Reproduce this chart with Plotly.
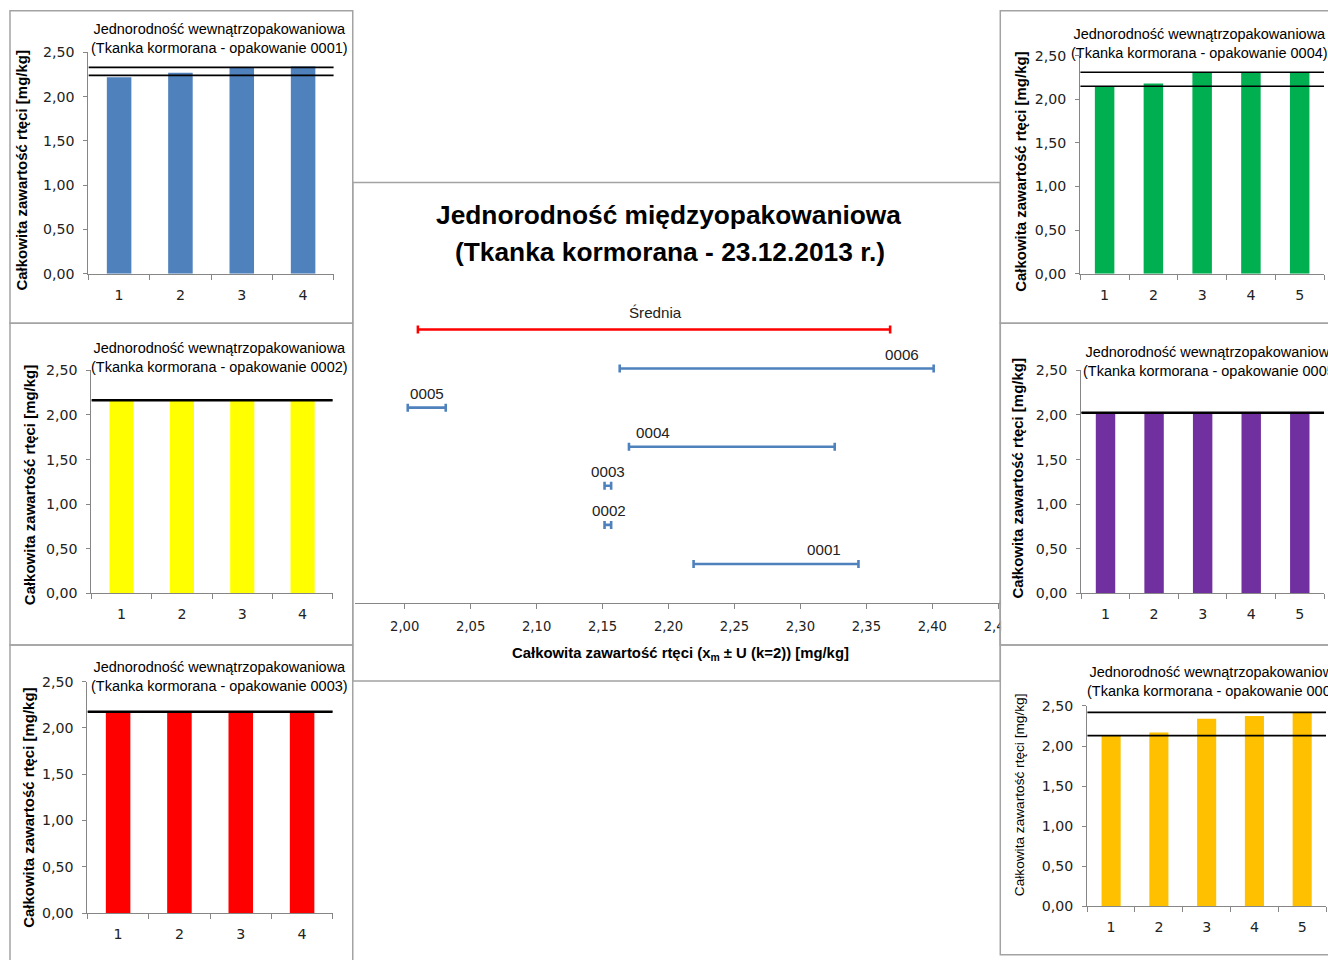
import plotly.graph_objects as go

# ---------------- data ----------------
# between-package homogeneity (centre chart)
mean_label = "Średnia"
mean_value = 2.189
mean_U = 0.179

pkg_names = ["0006", "0005", "0004", "0003", "0002", "0001"]
pkg_rows = [6, 5, 4, 3, 2, 1]
pkg_means = [2.282, 2.0167, 2.248, 2.154, 2.154, 2.2815]
pkg_U = [0.119, 0.0144, 0.078, 0.0025, 0.0025, 0.0625]
mean_row = 7

# label anchor x-values (data units) as placed in the original
label_x_mean = 2.190
label_x_pkg = [2.377, 2.0167, 2.188, 2.154, 2.155, 2.318]

center_ticks = [2.00, 2.05, 2.10, 2.15, 2.20, 2.25, 2.30, 2.35, 2.40, 2.45]

# within-package homogeneity (small panels)
pkg1_vals = [2.22, 2.27, 2.33, 2.34]
pkg1_lines = [2.24, 2.33]
pkg2_vals = [2.16, 2.16, 2.16, 2.16]
pkg2_lines = [2.16, 2.17]
pkg3_vals = [2.17, 2.17, 2.17, 2.17]
pkg3_lines = [2.17, 2.18]
pkg4_vals = [2.15, 2.18, 2.31, 2.31, 2.31]
pkg4_lines = [2.15, 2.31]
pkg5_vals = [2.02, 2.02, 2.02, 2.02, 2.02]
pkg5_lines = [2.02, 2.03]
pkg6_vals = [2.13, 2.17, 2.34, 2.375, 2.42]
pkg6_lines = [2.13, 2.42]

y_ticks_small = [0, 0.5, 1.0, 1.5, 2.0, 2.5]

# ---------------- page geometry ----------------
# the page is photographed slightly scaled; lay out in target pixels and
# convert to page pixels
SX, SY, OY = 0.991, 0.9845, 7.3
FW, FH = 1340, 968

def fx(p):
    return (p / SX) / FW

def fy(p):
    return 1 - ((p - OY) / SY) / FH

def fs(s):
    return round(s / 0.988, 2)

AX = "#868686"
BORDER = "#A3A3A3"
TICKFONT = dict(family="DejaVu Sans", size=fs(14), color="#222222")
CTICKFONT = dict(family="DejaVu Sans", size=fs(13), color="#222222")
LBLFONT = dict(family="Liberation Sans", size=fs(15), color="#222222")

fig = go.Figure()

# ---------------- centre chart ----------------
fig.add_trace(go.Scatter(
    x=[mean_value], y=[mean_row], mode="markers",
    marker=dict(size=2, opacity=0),
    error_x=dict(type="data", array=[mean_U], symmetric=True,
                 color="#FF0000", thickness=2.6, width=4),
    xaxis="x", yaxis="y", showlegend=False, hoverinfo="skip"))
fig.add_trace(go.Scatter(
    x=pkg_means, y=pkg_rows, mode="markers",
    marker=dict(size=2, opacity=0),
    error_x=dict(type="data", array=pkg_U, symmetric=True,
                 color="#4F81BD", thickness=2.6, width=4),
    xaxis="x", yaxis="y", showlegend=False, hoverinfo="skip"))

# centre axis: 2.00 at px 405, 1320 px per unit (target pixels)
c_left, c_right = 355, 1001
x0 = 2.0 - (405 - c_left) / 1320
x1 = x0 + (c_right - c_left) / 1320

layout_axes = {}
layout_axes["xaxis"] = dict(
    domain=[fx(c_left), fx(c_right)], range=[x0, x1],
    tickmode="array", tickvals=center_ticks, tickformat=".2f",
    ticks="outside", ticklen=5, tickcolor=AX, showline=True, linecolor=AX,
    linewidth=1, showgrid=False, zeroline=False, tickfont=CTICKFONT,
    ticklabelstandoff=6, anchor="y", fixedrange=True)
layout_axes["yaxis"] = dict(
    domain=[fy(603), fy(290)], range=[0, 8], visible=False,
    anchor="x", fixedrange=True)

annotations = []
annotations.append(dict(
    xref="x", yref="y", x=label_x_mean, y=mean_row, yshift=17,
    text=mean_label, showarrow=False, font=LBLFONT))
for nm, lx, r in zip(pkg_names, label_x_pkg, pkg_rows):
    annotations.append(dict(
        xref="x", yref="y", x=lx, y=r, yshift=14,
        text=nm, showarrow=False, font=LBLFONT))

TITLEFONT = dict(family="Liberation Sans", size=fs(26), color="#000000")
annotations.append(dict(
    xref="paper", yref="paper", x=fx(669), y=fy(215),
    text="<b>Jednorodność międzyopakowaniowa</b>",
    showarrow=False, font=TITLEFONT, xanchor="center", yanchor="middle"))
annotations.append(dict(
    xref="paper", yref="paper", x=fx(670), y=fy(252),
    text="<b>(Tkanka kormorana - 23.12.2013 r.)</b>",
    showarrow=False, font=TITLEFONT, xanchor="center", yanchor="middle"))
annotations.append(dict(
    xref="paper", yref="paper", x=fx(681), y=fy(654),
    text="<b>Całkowita zawartość rtęci (x<sub>m</sub> ± U (k=2)) [mg/kg]</b>",
    showarrow=False, font=dict(family="Liberation Sans", size=fs(14.7), color="#000000"),
    xanchor="center", yanchor="middle"))

# ---------------- small panels ----------------
panels = [
    # vals, lines, color, name, xl, xr, y_top, y_bot, title_cx, title_y1, ytitle_x, ytitle_y, bold
    (pkg1_vals, pkg1_lines, "#4F81BD", "0001", 88.5, 334, 51.7, 273.3, 220, 28, 22, 170, True),
    (pkg2_vals, pkg2_lines, "#FFFF00", "0002", 91.5, 333, 370, 593.3, 220, 348, 29, 485, True),
    (pkg3_vals, pkg3_lines, "#FF0000", "0003", 87.5, 333, 681.7, 913.3, 220, 667, 29, 808, True),
    (pkg4_vals, pkg4_lines, "#00B050", "0004", 1081, 1325, 55, 273.3, 1200, 33, 1021, 171, True),
    (pkg5_vals, pkg5_lines, "#7030A0", "0005", 1082, 1325, 370, 593.3, 1212, 352, 1018, 478, True),
    (pkg6_vals, pkg6_lines, "#FFC000", "0006", 1088, 1327, 706, 906.7, 1216, 672, 1021, 795, False),
]

for i, (vals, lines, col, nm, xl, xr, yt, yb, tcx, ty1, ytx, yty, bold) in enumerate(panels):
    k = i + 2
    xa, ya = f"x{k}", f"y{k}"
    n = len(vals)
    cats = list(range(1, n + 1))
    fig.add_trace(go.Bar(
        x=cats, y=vals, marker=dict(color=col, line=dict(width=0)), width=0.4,
        xaxis=xa, yaxis=ya, showlegend=False, hoverinfo="skip"))
    for v in lines:
        fig.add_trace(go.Scatter(
            x=[0.5, n + 0.5], y=[v, v], mode="lines",
            line=dict(color="#000000", width=1.6),
            xaxis=xa, yaxis=ya, showlegend=False, hoverinfo="skip", cliponaxis=True))
    layout_axes[f"xaxis{k}"] = dict(
        domain=[fx(xl), fx(xr)], range=[0.5, n + 0.5], anchor=ya,
        tickmode="array", tickvals=cats, ticks="", showgrid=False, zeroline=False,
        showline=True, linecolor=AX, linewidth=1, tickfont=TICKFONT,
        ticklabelstandoff=8,
        minor=dict(tickmode="array", tickvals=[c - 0.5 for c in cats] + [n + 0.5],
                   ticks="outside", ticklen=5, tickcolor=AX, showgrid=False),
        fixedrange=True)
    layout_axes[f"yaxis{k}"] = dict(
        domain=[fy(yb), fy(yt)], range=[0, 2.5], anchor=xa,
        tickmode="array", tickvals=y_ticks_small, tickformat=".2f",
        ticks="outside", ticklen=4, tickcolor=AX, showline=True, linecolor=AX,
        linewidth=1, showgrid=False, zeroline=False, tickfont=TICKFONT,
        ticklabelstandoff=6, fixedrange=True)
    annotations.append(dict(
        xref="paper", yref="paper", x=fx(tcx), y=fy(ty1 + 9.5),
        text=f"Jednorodność wewnątrzopakowaniowa<br>(Tkanka kormorana - opakowanie {nm})",
        showarrow=False, xanchor="center", yanchor="middle",
        font=dict(family="Liberation Sans", size=fs(14.3), color="#000000")))
    ytxt = "Całkowita zawartość rtęci [mg/kg]"
    annotations.append(dict(
        xref="paper", yref="paper", x=fx(ytx), y=fy(yty),
        text=f"<b>{ytxt}</b>" if bold else ytxt, textangle=-90,
        showarrow=False, xanchor="center", yanchor="middle",
        font=dict(family="Liberation Sans", size=fs(14.8 if bold else 13.5), color="#000000")))

# ---------------- panel borders ----------------
shapes = []
def rect(x0_, y0_, x1_, y1_):
    shapes.append(dict(type="rect", xref="paper", yref="paper",
                       x0=fx(x0_), x1=fx(x1_), y0=fy(y1_), y1=fy(y0_),
                       line=dict(color=BORDER, width=1.5), layer="below"))

rect(10, 10, 353, 323)
rect(10, 323, 353, 645)
rect(10, 645, 353, 975)
rect(353, 182, 1001, 681)
rect(1001, 10, 1345, 323)
rect(1001, 323, 1345, 645)
rect(1001, 645, 1345, 955)

# the right-hand panels sit on top of the centre chart's last tick label
shapes.append(dict(type="rect", xref="paper", yref="paper",
                   x0=fx(1001.8), x1=fx(1022), y0=fy(640), y1=fy(606),
                   fillcolor="#FFFFFF", line=dict(width=0), layer="above"))
shapes.append(dict(type="line", xref="paper", yref="paper",
                   x0=fx(1001), x1=fx(1001), y0=fy(645), y1=fy(600),
                   line=dict(color=BORDER, width=1.5), layer="above"))

fig.update_layout(
    width=FW, height=FH, margin=dict(l=0, r=0, t=0, b=0),
    paper_bgcolor="#FFFFFF", plot_bgcolor="#FFFFFF",
    separators=", ", showlegend=False,
    annotations=annotations, shapes=shapes,
    **layout_axes)

page_fix = ("var gd=document.getElementById('{plot_id}');"
            "gd.style.position='fixed';gd.style.left='0px';gd.style.top='0px';"
            "gd.style.overflow='hidden';"
            "document.documentElement.style.margin='0';"
            "document.documentElement.style.overflow='hidden';"
            "document.body.style.margin='0';"
            "document.body.style.overflow='hidden';")

fig.write_html("out.html", post_script=page_fix,
               config={"displayModeBar": False, "staticPlot": True})
